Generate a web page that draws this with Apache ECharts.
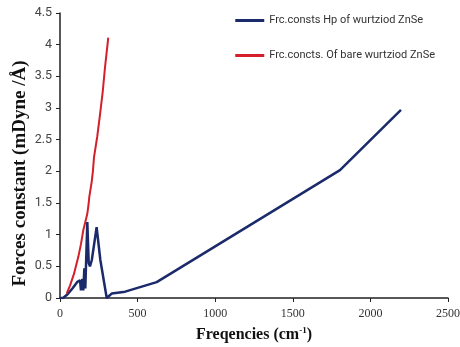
<!DOCTYPE html>
<html>
<head>
<meta charset="utf-8">
<script src="https://cdn.jsdelivr.net/npm/echarts@6/dist/echarts.min.js"></script>
<style>html,body{margin:0;padding:0;background:#fff}#chart{width:460px;height:347px}</style>
</head>
<body>
<div id="chart"></div>
<script>
// frequencies (cm-1) and force constants (mDyne/Å)
const hpFreq = [0, 20, 45, 80, 110, 129, 135, 143, 150, 157, 163, 176, 185, 193, 205, 236, 260, 301, 333, 420, 623, 1804, 2197]
const hpForce = [0, 0.0, 0.05, 0.15, 0.25, 0.28, 0.12, 0.3, 0.12, 0.47, 0.15, 1.2, 0.55, 0.5, 0.6, 1.12, 0.6, 0.0, 0.07, 0.1, 0.25, 2.02, 2.97]
const bareFreq = [43, 65, 90, 118, 135, 150, 165, 176, 185, 189, 204, 212, 219, 240, 258, 275, 290, 311]
const bareForce = [0.07, 0.2, 0.38, 0.65, 0.85, 1.07, 1.22, 1.33, 1.5, 1.6, 1.83, 2.0, 2.22, 2.55, 2.9, 3.25, 3.64, 4.11]
const xTicks = [0, 500, 1000, 1500, 2000, 2500]
const yTicks = [0, 0.5, 1, 1.5, 2, 2.5, 3, 3.5, 4, 4.5]

const pair = (xs, ys) => xs.map((x, i) => [x, ys[i]])

echarts.init(document.getElementById("chart")).setOption({
  animation: false,
  grid: {left: 60, right: 12, top: 13, bottom: 49, outerBoundsMode: "none"},
  legend: {
    orient: "vertical", right: 20, top: 10, itemGap: 24, itemWidth: 29, itemHeight: 3,
    icon: "rect",
    textStyle: {fontFamily: "Roboto", fontSize: 11, color: "#333"},
    data: ["Frc.consts Hp of wurtziod ZnSe", "Frc.concts. Of bare wurtziod ZnSe"]
  },
  xAxis: {
    type: "value", min: xTicks[0], max: xTicks[xTicks.length - 1], interval: 500,
    axisLine: {lineStyle: {color: "#222", width: 1.5}},
    axisTick: {show: true, inside: false, length: 4, lineStyle: {color: "#222"}},
    axisLabel: {margin: 10, fontFamily: "Liberation Serif", fontSize: 12, color: "#333", formatter: v => String(v)},
    splitLine: {show: false},
    name: "{a|Freqencies (cm}{s|-1}{a|)}", nameLocation: "middle", nameGap: 28, nameMoveOverlap: false,
    nameTextStyle: {rich: {
      a: {fontFamily: "Liberation Serif", fontWeight: "bold", fontSize: 16, color: "#111"},
      s: {fontFamily: "Liberation Serif", fontWeight: "bold", fontSize: 9, color: "#111", verticalAlign: "top", padding: [0, 0, 8, 0]}
    }}
  },
  yAxis: {
    type: "value", min: yTicks[0], max: yTicks[yTicks.length - 1], interval: 0.5,
    axisLine: {show: true, lineStyle: {color: "#222", width: 1.5}},
    axisTick: {show: true, inside: false, length: 4, lineStyle: {color: "#222"}},
    axisLabel: {margin: 8, fontFamily: "Roboto", fontSize: 12.5, color: "#444"},
    splitLine: {show: false},
    name: "Forces constant (mDyne /Å)", nameLocation: "middle", nameGap: 30, nameMoveOverlap: false,
    nameTextStyle: {fontFamily: "Liberation Serif", fontWeight: "bold", fontSize: 19, color: "#111", padding: [0, 36, 0, 0]}
  },
  series: [
    {name: "Frc.consts Hp of wurtziod ZnSe", type: "line", data: pair(hpFreq, hpForce),
     showSymbol: false, color: "#1b2a6b", lineStyle: {width: 2.5, color: "#1b2a6b"}},
    {name: "Frc.concts. Of bare wurtziod ZnSe", type: "line", data: pair(bareFreq, bareForce),
     showSymbol: false, color: "#d3202a", lineStyle: {width: 2, color: "#d3202a"}}
  ]
})
</script>
</body>
</html>
